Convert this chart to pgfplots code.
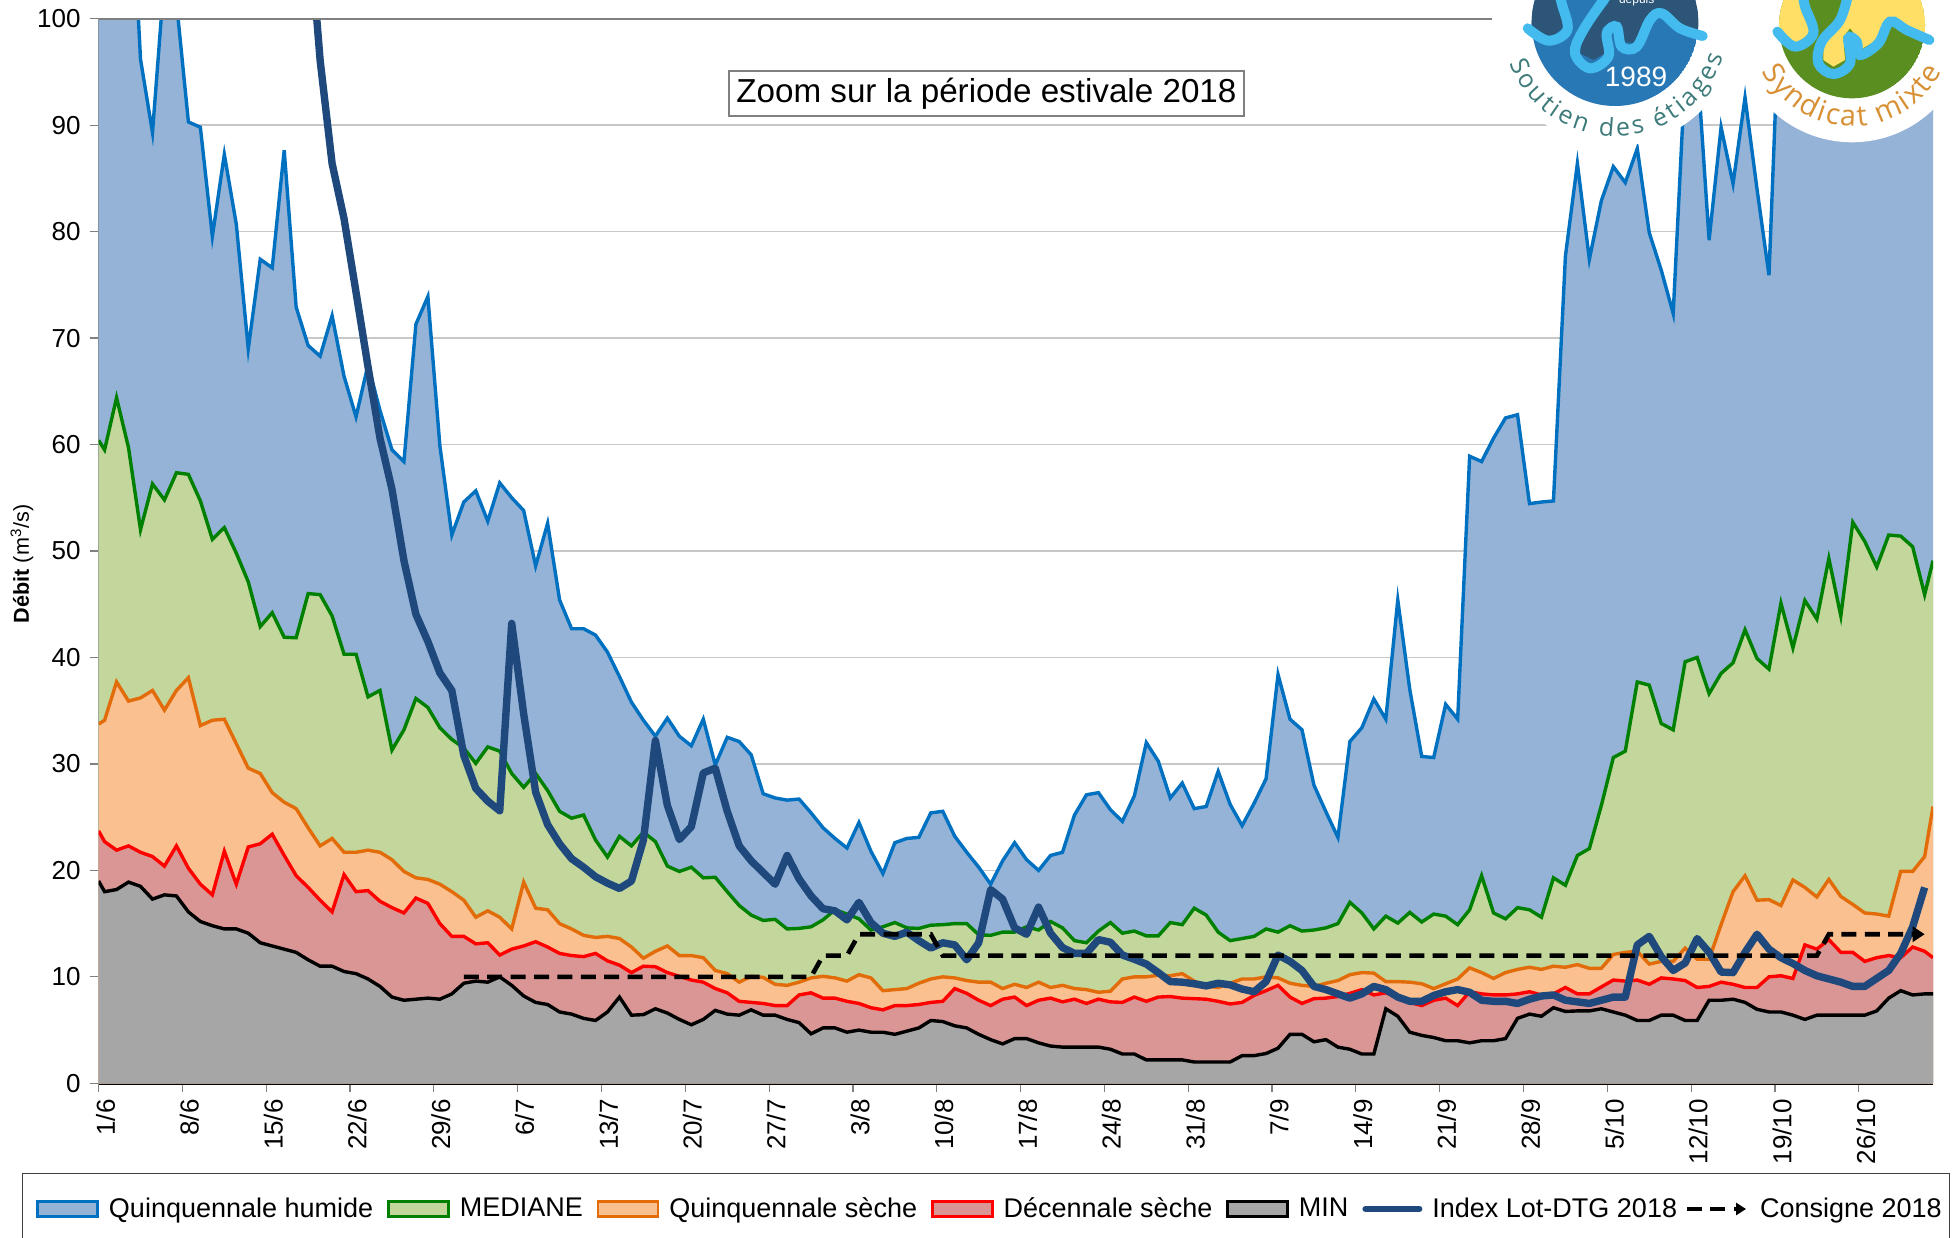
\documentclass[border=0pt]{standalone}
\usepackage{fontspec}
\setmainfont{Liberation Sans}
\newfontfamily\logofont{Open Sans}
\usepackage{pgfplots}
\usepackage{pgfplotstable}
\pgfplotsset{compat=1.18}
\usetikzlibrary{arrows.meta,decorations.text}
\definecolor{cHum}{HTML}{0070C0}\definecolor{fHum}{HTML}{95B3D7}
\definecolor{cMed}{HTML}{008000}\definecolor{fMed}{HTML}{C3D69B}
\definecolor{cQs}{HTML}{E36C0A}\definecolor{fQs}{HTML}{FAC090}
\definecolor{cDs}{HTML}{FF0000}\definecolor{fDs}{HTML}{D99694}
\definecolor{fMin}{HTML}{A6A6A6}
\definecolor{cIdx}{HTML}{1F497D}
\definecolor{gridc}{HTML}{C8C8C8}
\definecolor{axc}{HTML}{808080}
\definecolor{lgA}{HTML}{2878B5}\definecolor{lgB}{HTML}{2C5578}\definecolor{lgR}{HTML}{44BBEE}
\definecolor{lgY}{HTML}{FFDF66}\definecolor{lgG}{HTML}{5B8E20}
\definecolor{lgT}{HTML}{3D7A7A}\definecolor{lgO}{HTML}{D89035}
\pgfplotstableread{
x hum med qs ds mn
0 112 60.4 33.75 23.7 19.0
0.5 115 59.5 34.1 22.7 18.0
1.5 120 64.4 37.7 21.9 18.2
2.5 118 59.7 35.9 22.3 18.9
3.5 96.2 52.0 36.2 21.7 18.5
4.5 89.3 56.3 36.9 21.3 17.3
5.5 104 54.8 35.05 20.4 17.7
6.5 101.6 57.35 36.9 22.3 17.6
7.5 90.3 57.2 38.1 20.2 16.1
8.5 89.8 54.7 33.6 18.7 15.2
9.5 79.55 51.1 34.1 17.7 14.8
10.5 87.25 52.2 34.2 21.8 14.5
11.5 80.7 49.8 31.9 18.7 14.5
12.5 69.0 47.1 29.6 22.2 14.1
13.5 77.4 42.9 29.1 22.5 13.2
14.5 76.6 44.2 27.3 23.4 12.9
15.5 87.65 41.9 26.4 21.4 12.6
16.5 72.9 41.85 25.8 19.5 12.3
17.5 69.3 46.0 24.0 18.4 11.6
18.5 68.3 45.9 22.3 17.2 11.0
19.5 72.1 43.9 23.0 16.1 11.0
20.5 66.4 40.3 21.7 19.6 10.5
21.5 62.6 40.3 21.7 18.0 10.3
22.5 67.5 36.3 21.9 18.1 9.8
23.5 63.2 36.9 21.7 17.1 9.1
24.5 59.5 31.3 21.0 16.5 8.1
25.5 58.4 33.2 19.9 16.0 7.8
26.5 71.3 36.15 19.3 17.4 7.9
27.5 73.9 35.3 19.15 16.9 8.0
28.5 59.9 33.4 18.7 15.0 7.9
29.5 51.5 32.3 18.0 13.8 8.4
30.5 54.6 31.5 17.2 13.8 9.4
31.5 55.65 30.05 15.6 13.1 9.6
32.5 52.8 31.6 16.2 13.2 9.5
33.5 56.4 31.2 15.6 12.05 10.0
34.5 55.0 29.1 14.5 12.6 9.2
35.5 53.8 27.8 18.9 12.9 8.2
36.5 48.6 29.1 16.45 13.3 7.6
37.5 52.6 27.5 16.3 12.8 7.4
38.5 45.4 25.55 15.0 12.2 6.7
39.5 42.7 24.9 14.5 12.0 6.5
40.5 42.7 25.2 13.9 11.9 6.1
41.5 42.1 22.85 13.7 12.2 5.9
42.5 40.5 21.25 13.8 11.5 6.7
43.5 38.2 23.2 13.6 11.1 8.1
44.5 35.8 22.3 12.8 10.4 6.4
45.5 34.1 23.6 11.75 11.0 6.45
46.5 32.6 22.7 12.4 10.95 7.0
47.5 34.3 20.4 12.9 10.4 6.6
48.5 32.6 19.9 12.0 10.05 6.0
49.5 31.7 20.3 12.0 9.7 5.5
50.5 34.2 19.3 11.8 9.5 6.0
51.5 29.9 19.35 10.6 8.9 6.85
52.5 32.5 18.0 10.3 8.5 6.5
53.5 32.1 16.7 9.5 7.7 6.4
54.5 30.85 15.8 10.05 7.6 6.9
55.5 27.2 15.3 9.95 7.5 6.4
56.5 26.8 15.4 9.3 7.3 6.4
57.5 26.6 14.5 9.2 7.3 6.0
58.5 26.7 14.55 9.5 8.3 5.7
59.5 25.4 14.7 9.9 8.5 4.65
60.5 24.0 15.35 10.05 8.0 5.2
61.5 23.0 16.3 9.9 8.0 5.2
62.5 22.1 15.9 9.6 7.7 4.8
63.5 24.5 15.45 10.2 7.5 5.0
64.5 21.8 14.4 9.9 7.1 4.8
65.5 19.7 14.7 8.7 6.9 4.8
66.5 22.6 15.1 8.8 7.3 4.6
67.5 23.0 14.6 8.9 7.3 4.9
68.5 23.1 14.55 9.4 7.4 5.2
69.5 25.4 14.85 9.8 7.6 5.9
70.5 25.55 14.9 10.0 7.7 5.8
71.5 23.2 15.0 9.9 8.9 5.4
72.5 21.7 15.0 9.65 8.45 5.2
73.5 20.3 13.95 9.5 7.8 4.6
74.5 18.7 13.9 9.5 7.3 4.1
75.5 20.9 14.2 8.9 7.9 3.7
76.5 22.6 14.2 9.3 8.1 4.2
77.5 21.0 14.7 9.0 7.3 4.2
78.5 20.0 14.4 9.5 7.8 3.8
79.5 21.4 15.2 9.0 8.0 3.5
80.5 21.7 14.6 9.2 7.65 3.4
81.5 25.2 13.4 8.9 7.9 3.4
82.5 27.1 13.2 8.8 7.5 3.4
83.5 27.3 14.3 8.55 7.9 3.4
84.5 25.7 15.1 8.65 7.65 3.2
85.5 24.6 14.1 9.8 7.6 2.75
86.5 27.0 14.3 10.0 8.1 2.75
87.5 32.0 13.85 10.0 7.7 2.2
88.5 30.25 13.85 10.15 8.1 2.2
89.5 26.8 15.1 10.1 8.15 2.2
90.5 28.2 14.9 10.3 8.0 2.2
91.5 25.8 16.45 9.6 7.95 2.0
92.5 26.0 15.8 9.15 7.9 2.0
93.5 29.3 14.2 9.0 7.7 2.0
94.5 26.2 13.4 9.4 7.45 2.0
95.5 24.2 13.6 9.8 7.6 2.6
96.5 26.3 13.8 9.8 8.25 2.6
97.5 28.6 14.5 10.0 8.7 2.8
98.5 38.4 14.2 9.9 9.2 3.3
99.5 34.2 14.8 9.4 8.1 4.6
100.5 33.2 14.3 9.2 7.5 4.6
101.5 28.0 14.4 9.1 7.95 3.9
102.5 25.5 14.6 9.4 8.0 4.1
103.5 23.1 15.0 9.65 8.15 3.4
104.5 32.1 17.0 10.2 8.45 3.2
105.5 33.4 16.0 10.4 8.8 2.75
106.5 36.1 14.5 10.35 8.3 2.75
107.5 34.2 15.7 9.55 8.5 7.0
108.5 45.4 15.05 9.55 8.1 6.3
109.5 37.0 16.05 9.5 7.6 4.8
110.5 30.7 15.15 9.35 7.3 4.5
111.5 30.6 15.9 8.9 7.8 4.3
112.5 35.6 15.7 9.35 8.0 4.0
113.5 34.2 14.9 9.8 7.3 4.0
114.5 58.9 16.3 10.85 8.6 3.8
115.5 58.4 19.5 10.4 8.4 4.0
116.5 60.6 16.0 9.85 8.3 4.0
117.5 62.5 15.45 10.4 8.3 4.2
118.5 62.8 16.5 10.7 8.4 6.1
119.5 54.45 16.3 10.9 8.6 6.5
120.5 54.6 15.6 10.7 8.3 6.3
121.5 54.7 19.3 11.0 8.4 7.1
122.5 77.7 18.6 10.9 9.0 6.75
123.5 86.4 21.4 11.15 8.4 6.8
124.5 77.4 22.05 10.8 8.4 6.8
125.5 82.9 26.1 10.8 9.05 7.0
126.5 86.1 30.6 12.1 9.7 6.7
127.5 84.6 31.2 12.3 9.6 6.4
128.5 87.8 37.7 12.4 9.7 5.9
129.5 79.9 37.4 11.2 9.3 5.9
130.5 76.4 33.8 11.45 9.9 6.4
131.5 72.3 33.2 11.45 9.8 6.4
132.5 95 39.6 12.7 9.65 5.9
133.5 96 40.0 11.65 9.0 5.9
134.5 79.2 36.6 11.65 9.1 7.8
135.5 89.8 38.5 14.9 9.5 7.8
136.5 84.5 39.5 18.0 9.3 7.9
137.5 92.6 42.6 19.5 9.0 7.6
138.5 84.0 39.9 17.2 9.0 6.95
139.5 75.9 38.9 17.25 10.0 6.7
140.5 105 45.1 16.7 10.1 6.7
141.5 110 40.9 19.1 9.85 6.4
142.5 115 45.35 18.4 13.0 6.0
143.5 112 43.6 17.5 12.6 6.4
144.5 118 49.3 19.15 13.5 6.4
145.5 114 43.9 17.55 12.3 6.4
146.5 120 52.7 16.8 12.3 6.4
147.5 116 50.9 16.0 11.45 6.4
148.5 112 48.5 15.9 11.8 6.8
149.5 118 51.5 15.7 12.0 8.0
150.5 115 51.4 19.9 11.8 8.7
151.5 120 50.4 19.9 12.8 8.3
152.5 118 45.9 21.3 12.4 8.4
153.2 118 49.1 26.0 11.8 8.4
}\flows
\pgfplotstableread{
x y
16.5 125
17.5 110
18.5 96.1
19.5 86.4
20.5 81.2
21.5 74.3
22.5 67.3
23.5 60.6
24.5 55.8
25.5 49.1
26.5 44.05
27.5 41.5
28.5 38.55
29.5 36.9
30.5 30.8
31.5 27.7
32.5 26.5
33.5 25.6
34.5 43.2
35.5 34.7
36.5 27.35
37.5 24.3
38.5 22.5
39.5 21.1
40.5 20.3
41.5 19.4
42.5 18.8
43.5 18.3
44.5 19.0
45.5 22.85
46.5 32.2
47.5 26.1
48.5 22.9
49.5 24.1
50.5 29.15
51.5 29.6
52.5 25.55
53.5 22.3
54.5 20.9
55.5 19.8
56.5 18.7
57.5 21.4
58.5 19.2
59.5 17.6
60.5 16.4
61.5 16.2
62.5 15.35
63.5 17.0
64.5 15.1
65.5 14.1
66.5 13.8
67.5 14.2
68.5 13.4
69.5 12.7
70.5 13.2
71.5 13.0
72.5 11.6
73.5 13.2
74.5 18.2
75.5 17.3
76.5 14.6
77.5 14.0
78.5 16.55
79.5 14.1
80.5 12.75
81.5 12.2
82.5 12.2
83.5 13.5
84.5 13.25
85.5 12.05
86.5 11.65
87.5 11.2
88.5 10.4
89.5 9.55
90.5 9.5
91.5 9.35
92.5 9.15
93.5 9.4
94.5 9.25
95.5 8.85
96.5 8.6
97.5 9.55
98.5 12.05
99.5 11.45
100.5 10.6
101.5 9.1
102.5 8.8
103.5 8.4
104.5 8.0
105.5 8.4
106.5 9.1
107.5 8.8
108.5 8.1
109.5 7.7
110.5 7.7
111.5 8.25
112.5 8.6
113.5 8.8
114.5 8.55
115.5 7.8
116.5 7.7
117.5 7.7
118.5 7.5
119.5 7.9
120.5 8.2
121.5 8.3
122.5 7.8
123.5 7.65
124.5 7.5
125.5 7.8
126.5 8.1
127.5 8.1
128.5 13.0
129.5 13.8
130.5 11.9
131.5 10.6
132.5 11.3
133.5 13.6
134.5 12.3
135.5 10.45
136.5 10.4
137.5 12.3
138.5 14.0
139.5 12.6
140.5 11.8
141.5 11.25
142.5 10.6
143.5 10.1
144.5 9.8
145.5 9.5
146.5 9.1
147.5 9.1
148.5 9.85
149.5 10.6
150.5 12.2
151.5 14.7
152.5 18.4
}\indexlot
\pgfplotstableread{
x y
30.5 10
59.5 10
60.5 12
62.5 12
63.5 14
69.5 14
70.5 12
143.5 12
144.5 14
152.5 14
}\consigne
\pgfplotsset{
  swatch/.style 2 args={legend image code/.code={
    \draw[draw=#1,fill=#2,line width=1.3pt] (0pt,-3.8pt) rectangle (30pt,3.8pt);}},
}
\begin{document}
\begin{tikzpicture}
\useasboundingbox (0,0) rectangle (978.5pt,618.5pt);
\begin{axis}[
  at={(49.3pt,76.85pt)},anchor=origin,
  scale only axis,
  width=917.2pt,height=532.3pt,
  xmin=0,xmax=153.2,ymin=0,ymax=100,
  axis x line*=bottom,axis y line*=left,
  x axis line style={black,line width=1.7pt,-},
  y axis line style={axc,line width=.7pt,-},
  tick align=outside,
  major tick length=4.5pt,
  every tick/.style={axc,line width=.6pt},
  xtick={0,7,...,147},
  xticklabels={1/6,8/6,15/6,22/6,29/6,6/7,13/7,20/7,27/7,3/8,10/8,17/8,24/8,31/8,7/9,14/9,21/9,28/9,5/10,12/10,19/10,26/10},
  ytick={0,10,...,100},
  ymajorgrids,
  grid style={gridc,line width=.8pt},
  /pgf/number format/assume math mode=true,
  tick label style={font=\fontsize{13}{15}\selectfont},
  xticklabel style={rotate=90,anchor=east,xshift=0pt,yshift=-3.5pt},
  yticklabel style={xshift=-1pt},
  ylabel={\fontsize{10.8}{12}\selectfont\textbf{Débit} (m\textsuperscript{3}/s)},
  ylabel style={at={(axis description cs:-0.0418,0.488)},anchor=center,rotate=0},
  legend columns=7,
  legend cell align=left,
  legend style={
    at={(axis description cs:-0.04176,-0.0843)},anchor=north west,
    draw=black!75,line width=.7pt,
    font=\fontsize{13.5}{15}\selectfont,
    inner xsep=4pt,inner ysep=9.9pt,
    nodes={inner xsep=0pt},
    /tikz/every odd column/.append style={column sep=5pt},
    /tikz/every even column/.append style={column sep=7pt},
  },
]
% Quinquennale humide
\addplot[fill=fHum,draw=none,forget plot] table[x=x,y=hum]{\flows} \closedcycle;
\addplot[cHum,line width=1.7pt,legend image code/.code={
    \path[draw=none] (-3.5pt,0pt) -- (0pt,0pt);
    \draw[draw=cHum,fill=fHum,line width=1.3pt] (0pt,-3.8pt) rectangle (30pt,3.8pt);}] table[x=x,y=hum]{\flows};
\addlegendentry{Quinquennale humide}
% MEDIANE
\addplot[fill=fMed,draw=none,forget plot] table[x=x,y=med]{\flows} \closedcycle;
\addplot[cMed,line width=1.7pt,swatch={cMed}{fMed}] table[x=x,y=med]{\flows};
\addlegendentry{MEDIANE}
% Quinquennale seche
\addplot[fill=fQs,draw=none,forget plot] table[x=x,y=qs]{\flows} \closedcycle;
\addplot[cQs,line width=1.7pt,swatch={cQs}{fQs}] table[x=x,y=qs]{\flows};
\addlegendentry{Quinquennale sèche}
% Decennale seche
\addplot[fill=fDs,draw=none,forget plot] table[x=x,y=ds]{\flows} \closedcycle;
\addplot[cDs,line width=1.7pt,swatch={cDs}{fDs}] table[x=x,y=ds]{\flows};
\addlegendentry{Décennale sèche}
% MIN
\addplot[fill=fMin,draw=none,forget plot] table[x=x,y=mn]{\flows} \closedcycle;
\addplot[black,line width=1.7pt,swatch={black}{fMin}] table[x=x,y=mn]{\flows};
\addlegendentry{MIN}
% Index
\addplot[cIdx,line width=3.7pt,line join=round,legend image code/.code={
   \draw[cIdx,line width=3pt,line cap=round] (0pt,0pt) -- (27pt,0pt);}] table[x=x,y=y]{\indexlot};
\addlegendentry{Index Lot-DTG 2018}
% Consigne
\addplot[black,line width=2.3pt,dash pattern=on 7.5pt off 4.2pt,-{Triangle[length=6pt,width=7.5pt]},
   legend image code/.code={
   \path[draw=none,-,use as bounding box] (0pt,-1pt) rectangle (29.5pt,1pt);
   \draw[black,line width=2.3pt,dash pattern=on 7.5pt off 4.2pt,-{Triangle[length=5pt,width=6pt]}] (-2pt,0pt) -- (27.5pt,0pt);}] table[x=x,y=y]{\consigne};
\addlegendentry{Consigne 2018}
\end{axis}
% top line and note
\draw[axc,line width=1pt] (49.3pt,609.2pt) -- (748pt,609.2pt);
\node[draw=axc,line width=1pt,fill=white,inner sep=0pt,minimum width=257.5pt,minimum height=22.5pt,
      font=\fontsize{16.6}{18}\selectfont] at (493.2pt,571.5pt) {Zoom sur la période estivale 2018};
% logos
\coordinate (L) at (807.5pt,607pt);
\coordinate (R) at (926pt,605.85pt);
\fill[white] (L) circle[radius=61.5pt];
\fill[white] (R) circle[radius=58.5pt];
\begin{scope}[shift={(740pt,618.5pt)},x=0.16667pt,y=-0.16667pt]
  \begin{scope}
    \clip (405,68) circle[radius=41.67pt];
    \fill[lgA] (405,68) circle[radius=41.67pt];
    \fill[lgB] (130,80) -- (210,115) -- (265,70) -- (245,0) -- (245,-200) -- (100,-200) -- cycle;
    \fill[lgB] (385,-200) -- (385,10) -- (310,100) -- (300,160) -- (340,180) -- (375,160) -- (365,85) -- (405,60) -- (425,125) -- (465,130) -- (500,60) -- (545,25) -- (610,90) -- (700,100) -- (700,-200) -- cycle;
  \end{scope}
  \draw[lgR,line width=5pt,line cap=round] plot[smooth,tension=.6] coordinates {(143,85) (205,122) (262,90) (245,10) (235,-30)};
  \draw[lgR,line width=5pt,line cap=round] plot[smooth,tension=.6] coordinates {(385,-20) (310,90) (285,160) (330,205) (385,170) (380,100) (410,80) (425,140) (470,140) (510,60) (545,40) (600,85) (668,108)};
  \node[white,font=\fontsize{14}{15}\selectfont] at (468,232) {1989};
  \node[white,font=\fontsize{6}{7}\selectfont] at (470,0) {depuis};
  \begin{scope}
    \clip (1116,76) circle[radius=36.5pt];
    \fill[lgG] (1116,76) circle[radius=36.5pt];
    \fill[lgY] (880,95) -- (945,130) -- (995,100) -- (975,20) -- (970,-200) -- (800,-200) -- cycle;
    \fill[lgY] (1105,-200) -- (1090,50) -- (1030,130) -- (1030,180) -- (1060,200) -- (1095,180) -- (1090,110) -- (1110,85) -- (1130,110) -- (1140,150) -- (1190,120) -- (1230,50) -- (1290,90) -- (1400,110) -- (1400,-200) -- cycle;
  \end{scope}
  \draw[lgR,line width=5pt,line cap=round] plot[smooth,tension=.6] coordinates {(892,95) (945,140) (1000,100) (975,20) (968,-20)};
  \draw[lgR,line width=5pt,line cap=round] plot[smooth,tension=.6] coordinates {(1105,-20) (1080,60) (1025,125) (1015,190) (1060,222) (1110,190) (1105,115) (1130,125) (1140,165) (1195,130) (1230,65) (1280,90) (1348,120)};
\end{scope}
\path[decorate,decoration={text along path,text align={fit to path},
   text={|\logofont\fontsize{12.5}{15}\selectfont\color{lgT}|Soutien des étiages}}]
   ([shift={(201:56.5pt)}]L) arc[start angle=201,end angle=343,radius=56.5pt];
\path[decorate,decoration={text along path,text align={fit to path},
   text={|\logofont\fontsize{14.5}{17}\selectfont\color{lgO}|Syndicat mixte}}]
   ([shift={(207:50.5pt)}]R) arc[start angle=207,end angle=333,radius=50.5pt];
\end{tikzpicture}
\end{document}
